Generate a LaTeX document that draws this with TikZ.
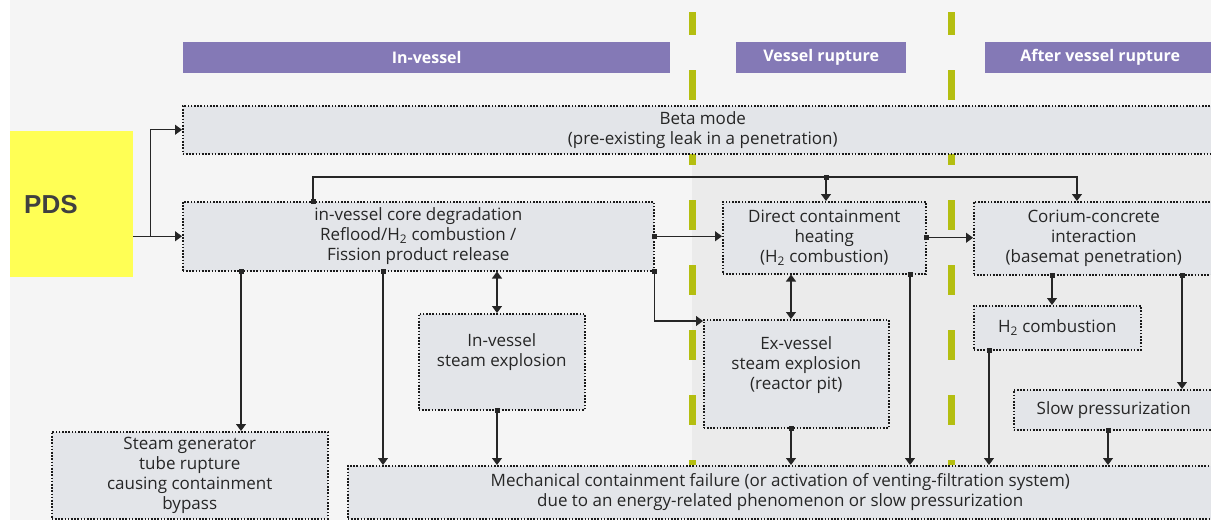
\documentclass[tikz,border=0pt]{standalone}
\usepackage{fontspec}
\setmainfont{Open Sans}
\newfontfamily\pdsfont{Liberation Sans}
\usepackage{xcolor}
\usepackage{tikz}
\usetikzlibrary{arrows.meta,positioning,calc}
\definecolor{phasebar}{HTML}{8479B6}
\definecolor{boxfill}{HTML}{E3E5E9}
\definecolor{olive}{HTML}{B4BE10}
\definecolor{pdsyellow}{HTML}{FFFF55}

\begin{document}
\begin{tikzpicture}[x=1pt, y=-1pt,
        box/.style={draw=black!90, line width=1.5pt, dash pattern=on 1.6pt off 1.6pt,
                    fill=boxfill, align=center, inner sep=0pt, anchor=north west,
                    font=\fontsize{17}{20}\selectfont, text=black!85},
        phase/.style={fill=phasebar, text=white, inner sep=0pt, anchor=north west,
                      minimum height=31pt, font=\fontsize{16}{18}\selectfont\bfseries},
        border/.style={draw=olive, line width=7pt, dash pattern=on 30pt off 35pt, dash phase=7pt},
        flow/.style={draw=black!85, line width=1.1pt, -{Triangle[length=7pt,width=10pt]}},
        sqflow/.style={flow, {Square[length=5pt,width=5pt]}-{Triangle[length=7pt,width=10pt]},
                       shorten <=-2.5pt},
        twoway/.style={flow, {Triangle[length=7pt,width=10pt]}-{Triangle[length=7pt,width=10pt]}}
    ]
    \useasboundingbox (0,0) rectangle (1211,520);
    \clip (0,0) rectangle (1211,520);
    \fill[white] (0,0) rectangle (1211,520);
    \fill[black!4] (10,0) rectangle (1211,520);
    \fill[black!8] (692,155) rectangle (1211,520);

    \draw[border] (692,12) -- (692,465);
    \draw[border] (951,12) -- (951,465);

    \node[phase, minimum width=487pt] (invessel) at (183,42) {In-vessel};
    \node[phase, minimum width=170pt] (rupture) at (736,42) {Vessel rupture};
    \node[phase, minimum width=230pt] (after) at (985,42) {After vessel rupture};

    \node[fill=pdsyellow, inner sep=0pt, anchor=north west, minimum width=123pt,
          minimum height=146pt, text width=95pt, align=left, text=black!75,
          font=\pdsfont\fontsize{26}{28}\selectfont\bfseries] (pds) at (10,131) {PDS};

    \node[box, minimum width=1040pt, minimum height=48pt] (beta) at (182,105)
        {Beta mode\\(pre-existing leak in a penetration)};
    \node[box, minimum width=471pt, minimum height=69pt] (core) at (182,201)
        {in-vessel core degradation\\Reflood/H\textsubscript{2} combustion /\\Fission product release};
    \node[box, minimum width=203pt, minimum height=72pt] (dch) at (722,201)
        {Direct containment\\heating\\(H\textsubscript{2} combustion)};
    \node[box, minimum width=240pt, minimum height=73pt] (cci) at (973,201)
        {Corium-concrete\\interaction\\(basemat penetration)};
    \node[box, minimum width=166pt, minimum height=96pt, text depth=24pt] (ivse) at (418,313)
        {In-vessel\\steam explosion};
    \node[box, minimum width=185pt, minimum height=108pt, text depth=22pt] (evse) at (703,319)
        {Ex-vessel\\steam explosion\\(reactor pit)};
    \node[box, minimum width=167pt, minimum height=44pt] (htwo) at (973,305)
        {H\textsubscript{2} combustion};
    \node[box, minimum width=200pt, minimum height=40pt] (slow) at (1013,389)
        {Slow pressurization};
    \node[box, minimum width=276pt, minimum height=87pt] (sgtr) at (51,431)
        {Steam generator\\tube rupture\\causing containment\\bypass};
    \node[box, minimum width=865pt, minimum height=53pt] (mcf) at (347,465)
        {Mechanical containment failure (or activation of venting-filtration system)\\due to an energy-related phenomenon or slow pressurization};

    \coordinate (split) at ($(pds.east |- core.west)+(17,0)$);
    \coordinate (bus) at (826,177);

    \draw[flow] (pds.east |- core.west) -- (core.west);
    \draw[flow] (split) |- (beta.west);
    \draw[sqflow] (core.north -| 313,0) |- (bus) -| (cci.north -| 1077,0);
    \draw[sqflow] (bus) -- (bus |- dch.north);
    \draw[sqflow] (core.east) -- (core.east -| dch.west);
    \draw[sqflow] (core.south east) |- ($(evse.north west)+(0,2)$);
    \draw[sqflow] (core.south -| 241,0) -- (sgtr.north -| 241,0);
    \draw[sqflow] (core.south -| 383,0) -- (mcf.north -| 383,0);
    \draw[twoway] (core.south -| 497,0) -- (ivse.north -| 497,0);
    \draw[sqflow] (ivse.south -| 497,0) -- (mcf.north -| 497,0);
    \draw[twoway] (dch.south -| 791,0) -- (evse.north -| 791,0);
    \draw[sqflow] (evse.south -| 791,0) -- (mcf.north -| 791,0);
    \draw[sqflow] (dch.east) -- (dch.east -| cci.west);
    \draw[sqflow] (dch.south -| 910,0) -- (mcf.north -| 910,0);
    \draw[sqflow] (cci.south -| 1052,0) -- (htwo.north -| 1052,0);
    \draw[sqflow] (cci.south -| 1182,0) -- (slow.north -| 1182,0);
    \draw[sqflow] (htwo.south -| 989,0) -- (mcf.north -| 989,0);
    \draw[sqflow] (slow.south -| 1108,0) -- (mcf.north -| 1108,0);
\end{tikzpicture}
\end{document}
